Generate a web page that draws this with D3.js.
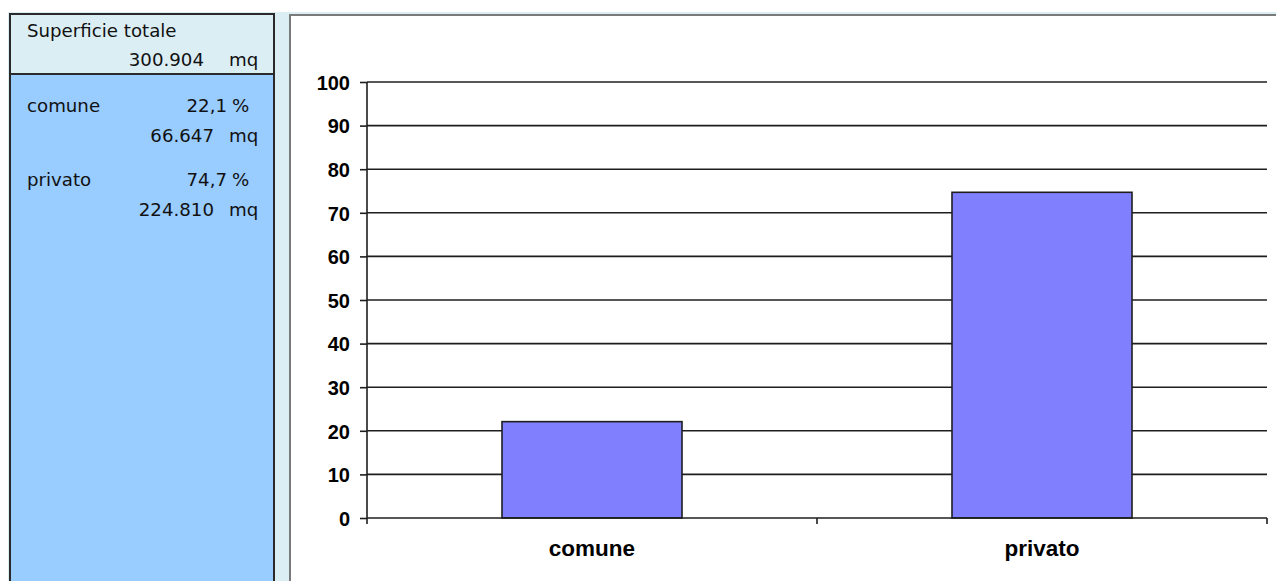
<!DOCTYPE html>
<html><head><meta charset="utf-8">
<script src="https://cdn.jsdelivr.net/npm/d3@7"></script>
<style>html,body{margin:0;padding:0;background:#fff;overflow:hidden}</style>
</head><body>
<svg id="c" width="1276" height="581"></svg>
<script>
const categories = ["comune", "privato"];
const percentValues = [22.1, 74.7];
const areaValues = [66647, 224810];
const totalArea = 300904;
const yTicks = [0, 10, 20, 30, 40, 50, 60, 70, 80, 90, 100];
const totalLabel = "Superficie totale";
const unitLabel = "mq";

const it = d3.formatLocale({decimal: ",", thousands: ".", grouping: [3], currency: ["", "€"]});
const fmtInt = it.format(",d");
const fmtPct = it.format(".1f");

const svg = d3.select("#c");
// outer light frame
svg.append("rect").attr("x", 8).attr("y", 12).attr("width", 1268).attr("height", 569).attr("fill", "#dbeef4");

// left panel
const lp = svg.append("g");
lp.append("rect").attr("x", 10).attr("y", 14).attr("width", 264).attr("height", 60).attr("fill", "#dbeef4");
lp.append("rect").attr("x", 10).attr("y", 74).attr("width", 264).attr("height", 520).attr("fill", "#99ccff");
lp.append("rect").attr("x", 10).attr("y", 14).attr("width", 264).attr("height", 580).attr("fill", "none").attr("stroke", "#2a2a2a").attr("stroke-width", 2);
lp.append("line").attr("x1", 10).attr("x2", 274).attr("y1", 74).attr("y2", 74).attr("stroke", "#2a2a2a").attr("stroke-width", 2);

const lf = "'DejaVu Sans', Verdana, sans-serif";
const txt = (x, y, s, anchor) => lp.append("text").attr("x", x).attr("y", y).attr("text-anchor", anchor || "start")
  .attr("font-family", lf).attr("font-size", 18.2).attr("fill", "#111").text(s);
txt(27, 37, totalLabel);
txt(204, 66, fmtInt(totalArea), "end");
txt(229, 66, unitLabel);
categories.forEach((c, i) => {
  const y0 = 112 + i * 74;
  txt(27, y0, c);
  txt(227, y0, fmtPct(percentValues[i]), "end");
  txt(232, y0, "%");
  txt(214, y0 + 30, fmtInt(areaValues[i]), "end");
  txt(229, y0 + 30, unitLabel);
});

// chart panel
svg.append("rect").attr("x", 290).attr("y", 15).attr("width", 990).attr("height", 570).attr("fill", "#fff")
  .attr("stroke", "#7a7a7a").attr("stroke-width", 2);

const pLeft = 367, pRight = 1267, pTop = 82, pBottom = 518;
const x = d3.scaleBand().domain(categories).range([pLeft, pRight]).padding(0);
const y = d3.scaleLinear().domain([0, 100]).range([pBottom, pTop]);

const plot = svg.append("g");
// gridlines
plot.selectAll("line.grid").data(yTicks.filter(d => d > 0)).join("line")
  .attr("x1", pLeft).attr("x2", pRight).attr("y1", d => y(d)).attr("y2", d => y(d))
  .attr("stroke", "#1e1e1e").attr("stroke-width", 1.6);

// bars
const barW = x.bandwidth() * 0.4;
plot.selectAll("rect.bar").data(categories).join("rect")
  .attr("x", d => x(d) + (x.bandwidth() - barW) / 2)
  .attr("y", (d, i) => y(percentValues[i]))
  .attr("width", barW)
  .attr("height", (d, i) => y(0) - y(percentValues[i]))
  .attr("fill", "#8080ff").attr("stroke", "#1e1e1e").attr("stroke-width", 1.6);

// y axis
const yAxis = d3.axisLeft(y).tickValues(yTicks).tickSize(7).tickPadding(10).tickFormat(d3.format("d"));
const yg = plot.append("g").attr("transform", `translate(${pLeft},0)`).call(yAxis);
yg.select(".domain").remove();
yg.selectAll(".tick line").attr("stroke", "#1e1e1e").attr("stroke-width", 1.6);
yg.selectAll(".tick text").attr("font-family", "'Liberation Sans', Arial, sans-serif").attr("font-weight", "bold")
  .attr("font-size", 20).attr("fill", "#000").attr("dy", "0.36em");
plot.append("line").attr("x1", pLeft).attr("x2", pLeft).attr("y1", pTop).attr("y2", pBottom + 6)
  .attr("stroke", "#1e1e1e").attr("stroke-width", 1.6);

// x axis
const xg = plot.append("g").attr("transform", `translate(0,${pBottom})`);
xg.append("line").attr("x1", pLeft).attr("x2", pRight).attr("y1", 0).attr("y2", 0).attr("stroke", "#1e1e1e").attr("stroke-width", 1.6);
xg.selectAll("line.sep").data(categories).join("line")
  .attr("x1", d => x(d) + x.bandwidth()).attr("x2", d => x(d) + x.bandwidth())
  .attr("y1", 0).attr("y2", 6).attr("stroke", "#1e1e1e").attr("stroke-width", 1.6);
xg.selectAll("text.cat").data(categories).join("text")
  .attr("x", d => x(d) + x.bandwidth() / 2).attr("y", 38).attr("text-anchor", "middle")
  .attr("font-family", "'Liberation Sans', Arial, sans-serif").attr("font-weight", "bold").attr("font-size", 22.5)
  .attr("fill", "#000").text(d => d);
</script>
</body></html>
